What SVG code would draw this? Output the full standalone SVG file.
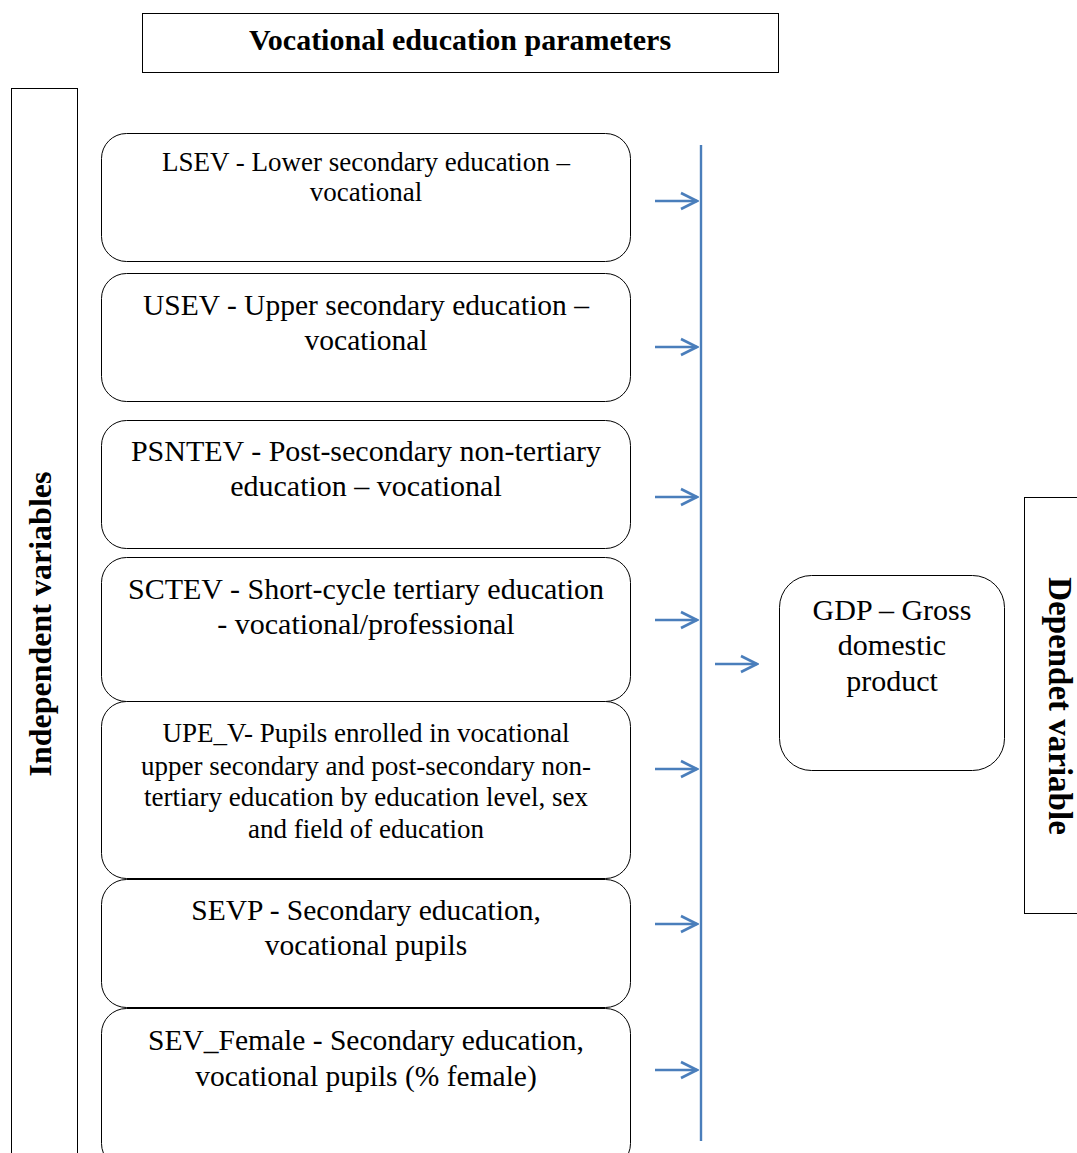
<svg xmlns="http://www.w3.org/2000/svg" width="1077" height="1153" viewBox="0 0 1077 1153">
<defs>
<marker id="ah" viewBox="0 0 20 20" refX="18" refY="10" markerWidth="20" markerHeight="20" markerUnits="userSpaceOnUse" orient="auto">
<path d="M2,2 L18,10 L2,18" fill="none" stroke="#4a7ebb" stroke-width="2.6"/>
</marker>
<style>
.frame{fill:#fff;stroke:#000;stroke-width:1}
.node{fill:#fff;stroke:#000;stroke-width:1}
text{font-family:'Liberation Serif','Times New Roman',serif;fill:#000;text-anchor:middle}
.b{font-weight:bold}
.conn{stroke:#4a7ebb;stroke-width:2.4;fill:none}
</style>
</defs>
<rect width="1077" height="1153" fill="#fff"/>
<g id="title">
<rect class="frame" x="142.5" y="13.5" width="636" height="59"/>
<text class="b" x="460" y="50" font-size="30">Vocational education parameters</text>
</g>
<g id="independent">
<rect class="frame" x="11.5" y="88.5" width="66" height="1080"/>
<text class="b" transform="translate(51,624) rotate(-90)" font-size="32">Independent variables</text>
</g>
<g id="dependent">
<rect class="frame" x="1024.5" y="497.5" width="70" height="416"/>
<text class="b" transform="translate(1049,706) rotate(90)" font-size="33">Dependet variable</text>
</g>
<g id="lsev">
<rect class="node" x="101.5" y="133.5" width="529" height="128" rx="25"/>
<text x="366" y="171" font-size="27">LSEV - Lower secondary education –</text>
<text x="366" y="201" font-size="27">vocational</text>
</g>
<g id="usev">
<rect class="node" x="101.5" y="273.5" width="529" height="128" rx="25"/>
<text x="366" y="315" font-size="29.5">USEV - Upper secondary education –</text>
<text x="366" y="350" font-size="29.5">vocational</text>
</g>
<g id="psntev">
<rect class="node" x="101.5" y="420.5" width="529" height="128" rx="25"/>
<text x="366" y="461" font-size="30">PSNTEV - Post-secondary non-tertiary</text>
<text x="366" y="496" font-size="30">education – vocational</text>
</g>
<g id="sctev">
<rect class="node" x="101.5" y="557.5" width="529" height="144" rx="25"/>
<text x="366" y="599" font-size="30">SCTEV - Short-cycle tertiary education</text>
<text x="366" y="634" font-size="30">- vocational/professional</text>
</g>
<g id="upev">
<rect class="node" x="101.5" y="701.5" width="529" height="177" rx="25"/>
<text x="366" y="742" font-size="27">UPE_V- Pupils enrolled in vocational</text>
<text x="366" y="775" font-size="27">upper secondary and post-secondary non-</text>
<text x="366" y="806" font-size="27">tertiary education by education level, sex</text>
<text x="366" y="838" font-size="27">and field of education</text>
</g>
<g id="sevp">
<rect class="node" x="101.5" y="879.5" width="529" height="128" rx="25"/>
<text x="366" y="920" font-size="29.5">SEVP - Secondary education,</text>
<text x="366" y="955" font-size="29.5">vocational pupils</text>
</g>
<g id="sevf">
<rect class="node" x="101.5" y="1008.5" width="529" height="160" rx="25"/>
<text x="366" y="1050" font-size="29.5">SEV_Female - Secondary education,</text>
<text x="366" y="1086" font-size="29.5">vocational pupils (% female)</text>
</g>
<g id="gdp">
<rect class="node" x="779.5" y="575.5" width="225" height="195" rx="32"/>
<text x="892" y="620" font-size="30">GDP – Gross</text>
<text x="892" y="655" font-size="30">domestic</text>
<text x="892" y="691" font-size="30">product</text>
</g>
<g id="connectors">
<line class="conn" x1="701" y1="145" x2="701" y2="1141"/>
<line class="conn" x1="655" y1="201" x2="697" y2="201" marker-end="url(#ah)"/>
<line class="conn" x1="655" y1="347" x2="697" y2="347" marker-end="url(#ah)"/>
<line class="conn" x1="655" y1="497" x2="697" y2="497" marker-end="url(#ah)"/>
<line class="conn" x1="655" y1="620" x2="697" y2="620" marker-end="url(#ah)"/>
<line class="conn" x1="655" y1="769" x2="697" y2="769" marker-end="url(#ah)"/>
<line class="conn" x1="655" y1="924" x2="697" y2="924" marker-end="url(#ah)"/>
<line class="conn" x1="655" y1="1070" x2="697" y2="1070" marker-end="url(#ah)"/>
<line class="conn" x1="715" y1="664" x2="757" y2="664" marker-end="url(#ah)"/>
</g>
</svg>
